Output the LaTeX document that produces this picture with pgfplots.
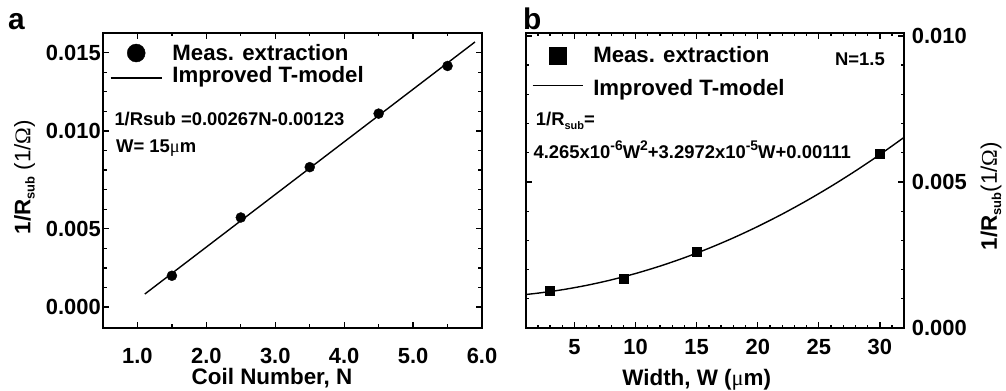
\documentclass[border=0pt]{standalone}
\usepackage{pgfplots}
\pgfplotsset{compat=1.18}
\usepackage{fontspec}
\setmainfont{Liberation Sans}
\newfontfamily\serifsym{Liberation Serif}
\newcommand{\ticksize}{\fontsize{22}{26}\selectfont\bfseries}
\newcommand{\labsize}{\fontsize{22.5}{27}\selectfont\bfseries}
\newcommand{\annsize}{\fontsize{18.5}{22}\selectfont\bfseries}
\newcommand{\legsize}{\fontsize{22.3}{26}\selectfont\bfseries}
\newcommand{\subs}[1]{\raisebox{-0.35ex}{\fontsize{13}{13}\selectfont #1}}
\newcommand{\asubs}[1]{\raisebox{-0.35ex}{\fontsize{11}{11}\selectfont #1}}
\newcommand{\sups}[1]{\raisebox{0.75ex}{\fontsize{14}{14}\selectfont #1}}

\pgfplotstableread{
W y
1 0.0011472
2 0.0011930
4 0.0013101
6 0.0014614
8 0.0016467
10 0.0018662
12 0.0021198
14 0.0024075
16 0.0027294
18 0.0030854
20 0.0034754
22 0.0038996
24 0.0043580
26 0.0048504
28 0.0053770
30 0.0059377
32 0.0065325
}\curveb

\begin{document}
\begin{tikzpicture}
\path[use as bounding box] (0,0) rectangle (1006bp,391bp);
\pgfplotsset{
  mystyle/.style={
    scale only axis,
    axis line style={line width=1.8bp},
    tick align=inside,
    major tick length=6bp,
    minor tick length=3.5bp,
    every tick/.style={line width=1.3bp, black},
    tick label style={font=\ticksize},
    label style={font=\labsize},
    scaled y ticks=false, scaled x ticks=false,
    /pgf/number format/assume math mode=true,
    legend style={draw=none, fill=none, inner sep=0pt, column sep=9bp,
      nodes={inner sep=1bp}, font=\legsize},
    legend cell align=left,
  }
}

% ---------------- panel a ----------------
\begin{axis}[mystyle,
  at={(103bp,63bp)}, anchor=south west,
  width=379bp, height=295.3bp,
  xmin=0.5, xmax=6, ymin=-0.001237, ymax=0.016178,
  xtick={1,2,3,4,5,6}, xticklabels={1.0,2.0,3.0,4.0,5.0,6.0},
  minor xtick={0.5,1.5,2.5,3.5,4.5,5.5},
  ytick={0,0.0046154,0.0103846,0.015}, yticklabels={0.000,0.005,0.010,0.015},
  minor ytick={0.0011538,0.0023077,0.0034615,0.0057692,0.0069231,0.0080769,0.0092308,0.0115385,0.0126923,0.0138462},
  xticklabel style={anchor=base, yshift=-35bp},
  yticklabel style={anchor=east, xshift=1.3bp},
  xlabel={Coil Number, N},
  xlabel style={at={(axis description cs:0.446,-0.18964)}, anchor=base},
  ylabel={1/R\subs{sub} {\mdseries(1/{\serifsym Ω})}},
  ylabel style={at={(axis description cs:-0.1916,0.511)}, anchor=base},
  legend style={at={(axis description cs:0.018,0.965)}, anchor=north west, row sep=2.5bp},
]
\addplot[only marks, mark=*, mark size=5bp, black,
  legend image code/.code={\fill[black] (25.5bp,0bp) circle (9bp);}]
  coordinates {(1.5,0.001844)(2.5,0.005279)(3.5,0.008248)(4.5,0.011406)(5.5,0.014216)};
\addlegendentry{Meas. extraction}
\addplot[black, line width=1.4bp,
  legend image code/.code={\draw[black,line width=1.4bp] (0bp,-3bp) -- (51bp,-3bp);}]
  coordinates {(1.107,0.000766)(5.898,0.015630)};
\addlegendentry{Improved T-model}
\end{axis}

% ---------------- panel b ----------------
\begin{axis}[mystyle,
  at={(525.7bp,63bp)}, anchor=south west,
  width=378.6bp, height=295.3bp,
  xmin=1, xmax=32, ymin=0, ymax=0.01011,
  xtick={5,10,15,20,25,30},
  minor xtick={1,2,3,4,6,7,8,9,11,12,13,14,16,17,18,19,21,22,23,24,26,27,28,29,31},
  ytick={0,0.005,0.01}, yticklabels={0.000,0.005,0.010},
  minor ytick={0.001,0.002,0.003,0.004,0.006,0.007,0.008,0.009},
  yticklabel pos=right,
  yticklabel style={anchor=west, xshift=4.1bp},
  xticklabel style={anchor=base, yshift=-26bp},
  xlabel={Width, W ({\serifsym\mdseries μ}m)},
  xlabel style={at={(axis description cs:0.4517,-0.1964)}, anchor=base},
  ylabel={1/R\subs{sub}{\mdseries(1/{\serifsym Ω})}},
  ylabel style={at={(axis description cs:1.2448,0.447)}, anchor=base},
  legend style={at={(axis description cs:0.0158,0.957)}, anchor=north west, row sep=13bp},
]
\addplot[only marks, mark=square*, mark size=4.5bp, black,
  legend image code/.code={\fill[black] (16.8bp,-8.5bp) rectangle (33.8bp,8.5bp);}]
  coordinates {(3,0.001277)(9,0.001699)(15,0.002623)(30,0.005964)};
\addlegendentry{Meas. extraction}
\addplot[black, line width=1.4bp, smooth,
  legend image code/.code={\draw[black,line width=1.4bp] (0bp,2.7bp) -- (50bp,2.7bp);}]
  table[x=W,y=y] {\curveb};
\addlegendentry{Improved T-model}
\end{axis}

% annotations
\node[anchor=base west, inner sep=0, font=\annsize] at (114.3bp,265.4bp) {1/Rsub =0.00267N-0.00123};
\node[anchor=base west, inner sep=0, font=\annsize] at (116bp,238.4bp) {W= 15{\serifsym\mdseries μ}m};
\node[anchor=base west, inner sep=0, font=\annsize] at (535.7bp,265bp) {1/R\asubs{sub}=};
\node[anchor=base west, inner sep=0, font=\annsize] at (533.3bp,232.7bp) {4.265x10\sups{-6}W\sups{2}+3.2972x10\sups{-5}W+0.00111};
\node[anchor=base east, inner sep=0, font=\annsize] at (885bp,325bp) {N=1.5};
\node[anchor=base west, inner sep=0, font=\fontsize{30}{30}\selectfont\bfseries] at (8bp,361bp) {a};
\node[anchor=base west, inner sep=0, font=\fontsize{30}{30}\selectfont\bfseries] at (523bp,361bp) {b};
\end{tikzpicture}
\end{document}
